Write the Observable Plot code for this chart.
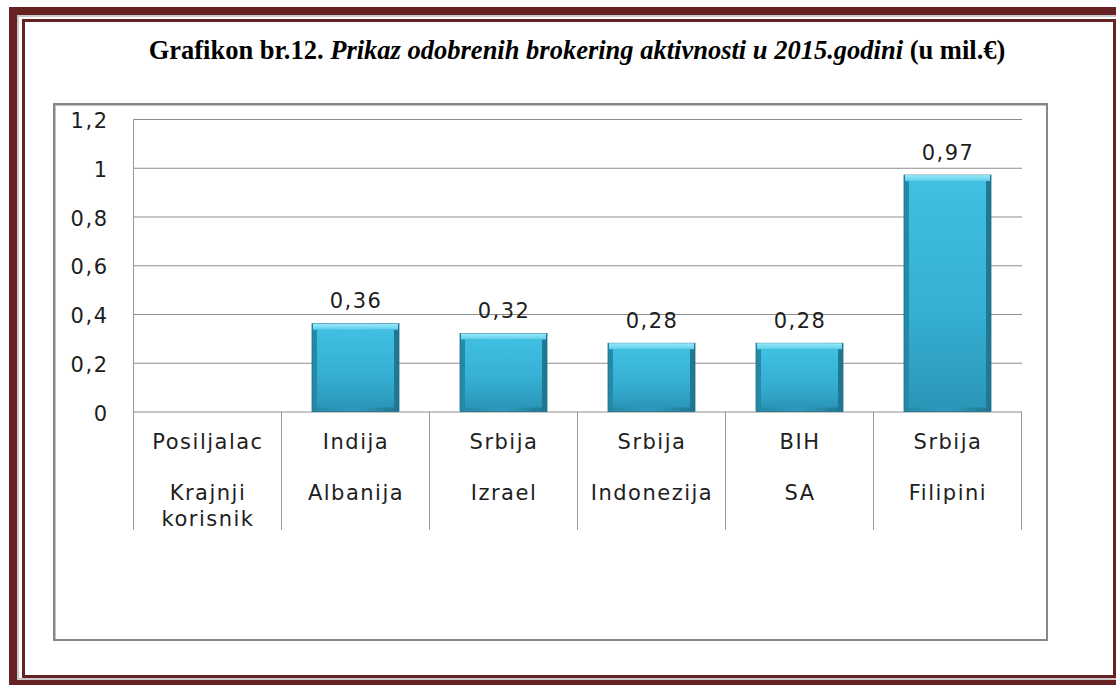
<!DOCTYPE html>
<html>
<head>
<meta charset="utf-8">
<script src="https://cdn.jsdelivr.net/npm/d3@7"></script>
<script src="https://cdn.jsdelivr.net/npm/@observablehq/plot@0.6"></script>
<style>
  html, body { margin: 0; padding: 0; background: #fff; }
  #page { position: relative; width: 1116px; height: 685px; overflow: hidden; background: #fff; }
  .frame-outer { position: absolute; left: 9px; top: 7px; width: 1117px; height: 681px;
    border: 8px solid #662222; box-sizing: border-box; box-shadow: inset 0 0 0 2px #c9c9c9; }
  .frame-inner { position: absolute; left: 22px; top: 19px; width: 1094px; height: 659px;
    border: 3px solid #662222; box-sizing: border-box; }
  .title { position: absolute; left: 0; top: 35px; width: 1154px; text-align: center;
    font-family: "Liberation Serif", "Times New Roman", serif; font-weight: bold; font-size: 26.5px; color: #000; white-space: nowrap; }
  .box { position: absolute; left: 53px; top: 103px; width: 995px; height: 538px;
    border: 2px solid #878787; box-sizing: border-box; box-shadow: inset 1px 1px 0 #c4c4c4; }
  #chart { position: absolute; left: 53px; top: 103px; }
  #chart svg text { letter-spacing: 1.5px; }
</style>
</head>
<body>
<div id="page">
  <div class="frame-outer"></div>
  <div class="frame-inner"></div>
  <div class="title">Grafikon br.12. <i>Prikaz odobrenih brokering aktivnosti u 2015.godini</i> (u mil.€)</div>
  <div class="box"></div>
  <div id="chart"></div>
</div>
<script>
// ---- data ----
const senders   = ["Posiljalac", "Indija", "Srbija", "Srbija", "BIH", "Srbija"];
const receivers = ["Krajnji\nkorisnik", "Albanija", "Izrael", "Indonezija", "SA", "Filipini"];
const values    = [null, 0.36, 0.32, 0.28, 0.28, 0.97];
const yTicks    = [0, 0.2, 0.4, 0.6, 0.8, 1, 1.2];

const ids = senders.map((_, i) => i);
const bars = ids.filter(i => values[i] != null).map(i => ({id: i, value: values[i]}));
const comma = v => String(v).replace(".", ",");

const W = 995, H = 538;
const chart = Plot.plot({
  width: W, height: H,
  marginLeft: 80, marginRight: 26, marginTop: 16, marginBottom: 229.5,
  style: {fontFamily: "'DejaVu Sans', sans-serif", fontSize: "21px", color: "#1e1e1e", background: "transparent", overflow: "visible"},
  x: {domain: ids, paddingInner: 0.41, paddingOuter: 0.205, axis: null},
  y: {domain: [0, 1.2], axis: null},
  marks: [
    Plot.gridY(yTicks, {stroke: "#8e8e8e", strokeOpacity: 1, strokeWidth: 1}),
    Plot.axisY(yTicks, {tickSize: 0, tickPadding: 25, tickFormat: comma, fontSize: 21, dy: 2, label: null}),
    Plot.axisX({tickSize: 0, tickPadding: 22.5, tickFormat: i => senders[i], fontSize: 21, label: null}),
    Plot.axisX({tickSize: 0, tickPadding: 69.5, tickFormat: i => receivers[i], fontSize: 21, lineHeight: 1.23, label: null}),
    // bar body (dark edges)
    Plot.barY(bars, {x: "id", y: "value", fill: "url(#gEdge)", stroke: "#1e6f88", strokeWidth: 0.8}),
    // bar face
    Plot.barY(bars, {x: "id", y: "value", fill: "url(#gFace)", insetLeft: 5, insetRight: 5, insetTop: 6, insetBottom: 4}),
    // top bevel
    Plot.barY(bars, {x: "id", y1: "value", y2: "value", insetBottom: -6, insetLeft: 1, insetRight: 1, fill: "url(#gTop)"}),
    // value labels
    Plot.text(bars, {x: "id", y: "value", text: d => comma(d.value), lineAnchor: "bottom", dy: -16, fontSize: 21, fill: "#1e1e1e"})
  ]
});
document.getElementById("chart").appendChild(chart);

// gradients for the bevelled bars
const svg = d3.select(chart);
const defs = svg.insert("defs", ":first-child");
function grad(id, x2, y2, stops) {
  const g = defs.append("linearGradient").attr("id", id).attr("x1", 0).attr("y1", 0).attr("x2", x2).attr("y2", y2);
  stops.forEach(([o, c]) => g.append("stop").attr("offset", o).attr("stop-color", c));
}
grad("gEdge", 1, 0, [[0, "#2687a6"], [0.5, "#2f9dbf"], [1, "#1f7690"]]);
grad("gFace", 0, 1, [[0, "#40c0e3"], [0.6, "#35aed2"], [1, "#2a96b8"]]);
grad("gTop", 0, 1, [[0, "#9aeafb"], [1, "#5ccdec"]]);

// category table lines, positioned from Plot's own scales
const x = chart.scale("x"), y = chart.scale("y");
const step = x.step, bw = x.bandwidth;
const y0 = y.apply(0), yTop = y.apply(1.2), yBottom = y0 + 118.5;
const bounds = ids.map(i => x.apply(i) + bw / 2 - step / 2).concat([x.apply(ids.length - 1) + bw / 2 + step / 2]);
const g = svg.append("g").attr("stroke", "#9a9a9a").attr("stroke-width", 1);
bounds.forEach((bx, k) => {
  g.append("line").attr("x1", bx).attr("x2", bx).attr("y1", k === 0 ? yTop : y0).attr("y2", yBottom);
});
</script>
</body>
</html>
